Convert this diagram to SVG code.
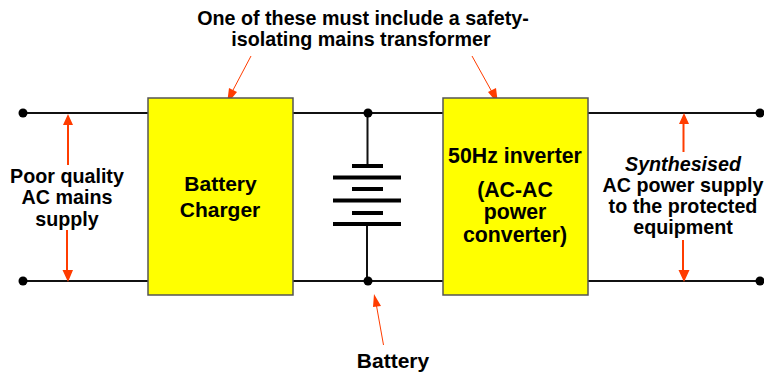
<svg xmlns="http://www.w3.org/2000/svg" width="764" height="372" viewBox="0 0 764 372">
<style>
text{font-family:"Liberation Sans",Arial,sans-serif;font-weight:bold;font-size:19.700px;fill:#000;text-anchor:middle}
.big{font-size:21px}
.inv{font-size:21.300px}
.w{stroke:#111;stroke-width:2;fill:none}
.p{stroke:#000;stroke-width:4;fill:none}
.b{fill:#ff0;stroke:#555;stroke-width:1.500}
.a{stroke:#ff3c00;stroke-width:2;fill:none}
.t{stroke:#ff3c00;stroke-width:1;fill:none}
.h{fill:#ff3c00}
.d{fill:#000}
</style>
<rect width="764" height="372" fill="#fff"/>
<g id="connectors">
<path class="w" d="M23 113H148M293 113H443M588 113H760M23 281H148M293 281H443M588 281H760"/>
<path class="w" d="M367.500 113V165M367 224V281"/>
<circle class="d" cx="23" cy="113" r="4.500"/><circle class="d" cx="23" cy="281" r="4.500"/>
<circle class="d" cx="368" cy="113" r="4.500"/><circle class="d" cx="368" cy="281" r="4.500"/>
<circle class="d" cx="760" cy="113" r="4.500"/><circle class="d" cx="760" cy="281" r="4.500"/>
<path class="a" d="M68 124V165M67 230V271M683.500 122V152M683 240V271"/>
<path class="h" d="M68 114L73 125H63ZM68 282L73 270H62.500ZM684 113L689 124H679ZM684 282L689.500 270H678.500Z"/>
<path class="t" d="M251 56L232 92M472 56L492 92M383.500 345L376 303"/>
<path class="h" d="M227 104L229 88L237 92ZM498 104L488 92L496 88ZM374 294L381 306L373 307Z"/>
</g>
<g id="charger"><rect class="b" x="148" y="98" width="145" height="197"/><text class="big" x="220.500" y="191">Battery</text><text class="big" x="220" y="217">Charger</text></g>
<g id="battery">
<path class="p" d="M352 166H383M333 177.500H401M352 189H383M333 200.500H401M352 213H383M333 224H401"/>
</g>
<g id="inverter"><rect class="b" x="443" y="98" width="145" height="197"/>
<text class="inv" x="515" y="163">50Hz inverter</text><text class="inv" x="515" y="197">(AC-AC</text><text class="inv" x="515" y="219">power</text><text class="inv" x="515" y="242">converter)</text></g>
<g id="label-input"><text x="67" y="183">Poor quality</text><text x="67" y="204">AC mains</text><text x="67" y="226">supply</text></g>
<g id="label-output"><text x="683" y="171" style="font-style:italic">Synthesised</text><text x="683" y="192">AC power supply</text><text x="683" y="213">to the protected</text><text x="683" y="234">equipment</text></g>
<g id="label-top"><text x="363" y="25">One of these must include a safety-</text><text x="361" y="46">isolating mains transformer</text></g>
<g id="label-battery"><text class="big" x="393" y="368">Battery</text></g>
</svg>
